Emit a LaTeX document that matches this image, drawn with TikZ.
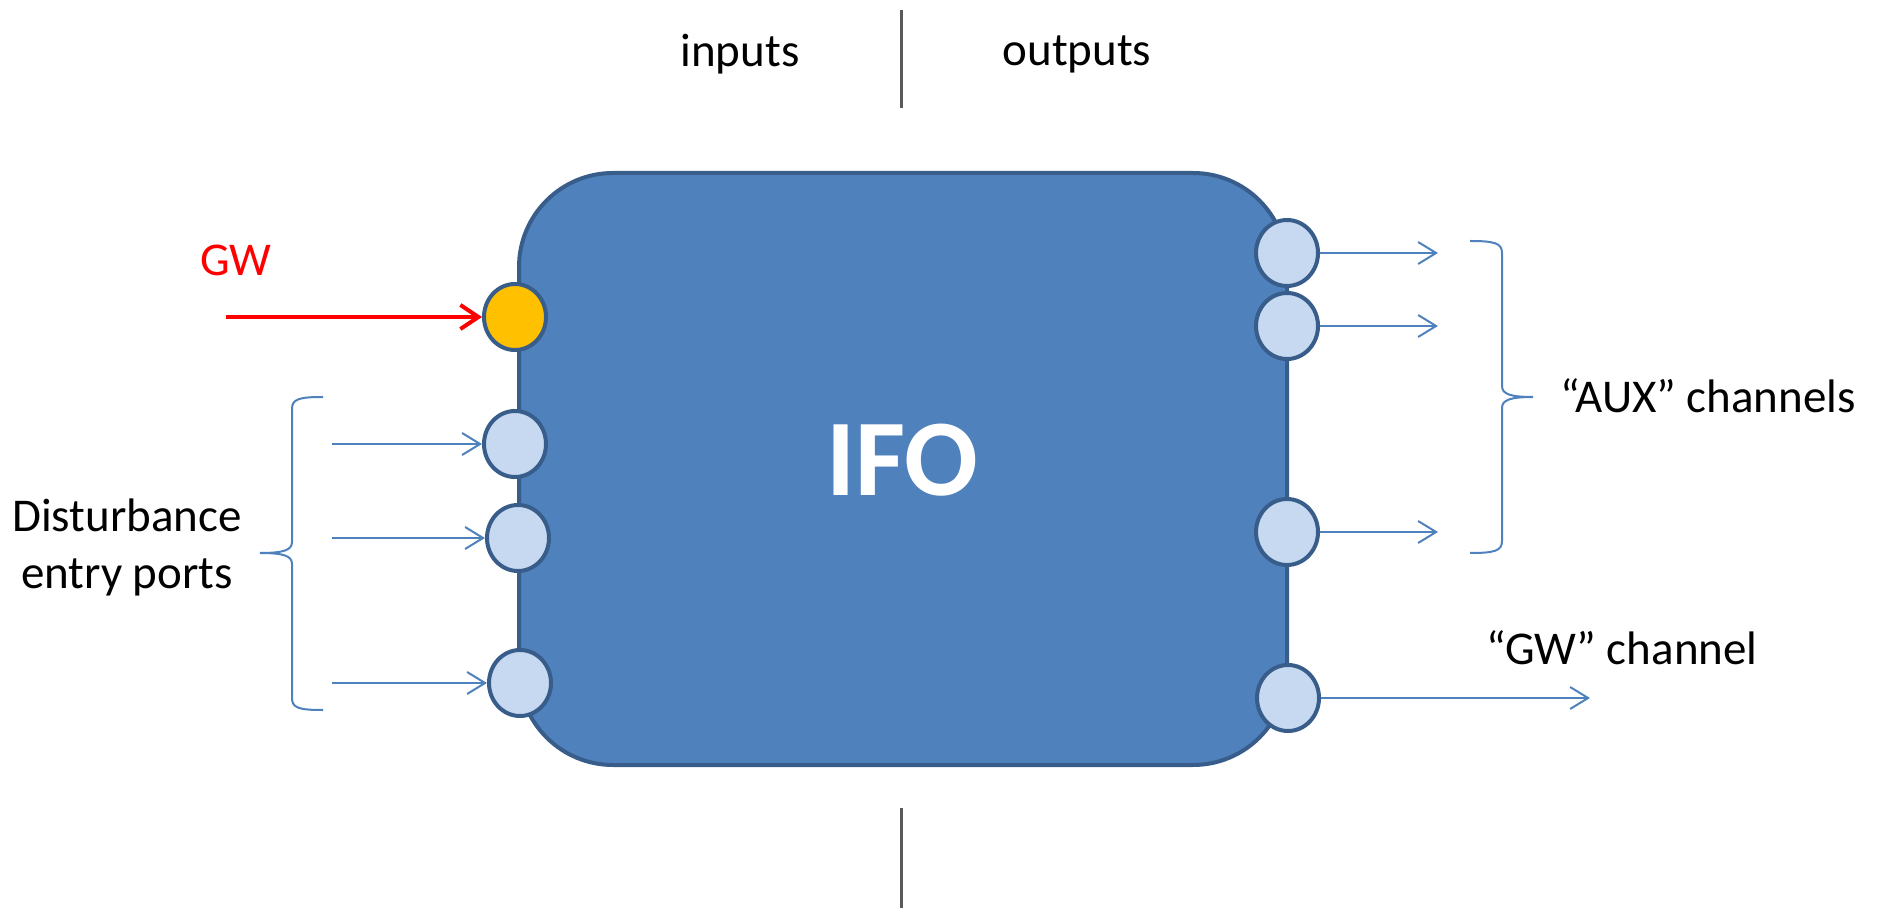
\documentclass[tikz,border=0pt]{standalone}
\usepackage{fontspec}
\setmainfont{Carlito}
\usetikzlibrary{arrows.meta,shapes.geometric}
\definecolor{ifoblue}{HTML}{4F81BD}
\definecolor{ifoedge}{HTML}{385D8A}
\definecolor{portfill}{HTML}{C6D9F1}
\definecolor{gwgold}{HTML}{FFC000}
\definecolor{divgray}{HTML}{595959}

\begin{document}
\begin{tikzpicture}[x=0.5pt,y=-0.5pt,
  lbl/.style={font=\fontsize{23.5}{28.5}\selectfont,inner sep=0pt},
  port/.style={ellipse,draw=ifoedge,line width=2pt,fill=portfill,minimum width=31pt,minimum height=33pt,inner sep=0pt},
  sig/.style={draw=ifoblue,line width=1pt,-{Straight Barb[length=9pt,width=11pt]}},
  brc/.style={draw=ifoblue,line width=1pt}]
  \useasboundingbox (0,0) rectangle (1883,908);

  % input / output divider
  \coordinate (divtop) at (901,10);
  \coordinate (divmid) at (901,108);
  \coordinate (divlow) at (901,808);
  \coordinate (divend) at (901,908);
  \draw[divgray,line width=1.5pt] (divtop) -- (divmid);
  \draw[divgray,line width=1.5pt] (divlow) -- (divend);
  \node[lbl] (inp) at (740,54) {inputs};
  \node[lbl] (outp) at (1077,54) {outputs};

  % the interferometer block
  \node[draw=ifoedge,line width=2pt,fill=ifoblue,rounded corners=47pt,minimum width=384pt,minimum height=296pt] (ifo) at (903,469) {};
  \node[text=white,font=\fontsize{54.5}{60}\selectfont\bfseries,inner sep=0pt] (ifolbl) at (902,460) {IFO};

  % ports
  \node[port,fill=gwgold] (gw) at (515,317) {};
  \node[port] (d1) at (515,444) {};
  \node[port] (d2) at (518,538) {};
  \node[port] (d3) at (520,683) {};
  \node[port] (a1) at (1287,253) {};
  \node[port] (a2) at (1287,326) {};
  \node[port] (a3) at (1287,532) {};
  \node[port] (gwo) at (1288,698) {};

  % GW input
  \coordinate (gwsrc) at (226,317);
  \draw[red,line width=2pt,-{Straight Barb[length=9pt,width=12pt]}] (gwsrc) -- (gw.west);
  \node[lbl,text=red] (gwlbl) at (236,260) {GW};

  % disturbances
  \coordinate (s1) at (332,444);
  \coordinate (s2) at (332,538);
  \coordinate (s3) at (332,683);
  \draw[sig] (s1) -- (d1.west);
  \draw[sig] (s2) -- (d2.west);
  \draw[sig] (s3) -- (d3.west);
  \draw[brc] (323,397) .. controls (299,397) and (292,399) .. (292,409) -- (292,542)
    .. controls (292,550) and (284,553) .. (260,553)
    .. controls (284,553) and (292,556) .. (292,564) -- (292,698)
    .. controls (292,708) and (299,710) .. (323,710);
  \node[lbl,align=center] (dist) at (127,547) {Disturbance\\entry ports};

  % outputs
  \coordinate (t1) at (1438,253);
  \coordinate (t2) at (1438,326);
  \coordinate (t3) at (1438,532);
  \coordinate (tgw) at (1590,698);
  \draw[sig] (a1.east) -- (t1);
  \draw[sig] (a2.east) -- (t2);
  \draw[sig] (a3.east) -- (t3);
  \draw[sig] (gwo.east) -- (tgw);
  \draw[brc] (1470,241) .. controls (1494,241) and (1502,243) .. (1502,253) -- (1502,386)
    .. controls (1502,394) and (1510,397) .. (1533,397)
    .. controls (1510,397) and (1502,400) .. (1502,408) -- (1502,541)
    .. controls (1502,551) and (1494,553) .. (1470,553);
  \node[lbl] (aux) at (1708,396) {“AUX” channels};
  \node[lbl] (gwch) at (1622,648) {“GW” channel};
\end{tikzpicture}
\end{document}
